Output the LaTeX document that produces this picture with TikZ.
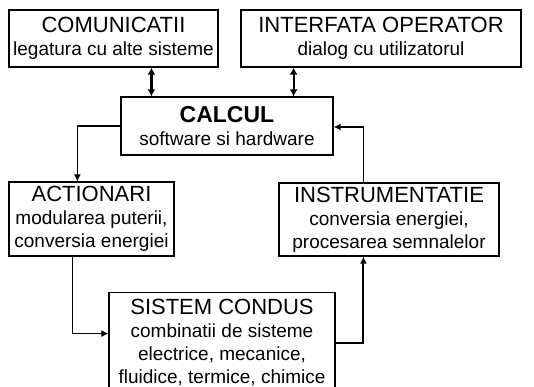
\documentclass[tikz,border=0pt]{standalone}
\usepackage{fontspec}
\setmainfont{Liberation Sans}
\usetikzlibrary{arrows.meta}

\newcommand{\hd}[1]{{\fontsize{22}{23}\selectfont #1}}

\begin{document}
\begin{tikzpicture}[x=1pt, y=-1pt,
    blok/.style={draw, line width=1.2pt, inner sep=0pt, align=center,
                 font=\fontsize{19}{23}\selectfont},
    link/.style={line width=1.1pt, -{Latex[length=7pt, width=7pt]}},
    biarrow/.style={line width=2.2pt, {Latex[length=7pt, width=8pt]}-{Latex[length=7pt, width=8pt]}}]
    \clip (0,0) rectangle (534,387);
    \node[blok, minimum width=209pt, minimum height=57pt] (com) at (113.5,38.5) {\hd{COMUNICATII}\\legatura cu alte sisteme};
    \node[blok, minimum width=280pt, minimum height=57pt] (intf) at (381,38.5) {\hd{INTERFATA OPERATOR}\\dialog cu utilizatorul};
    \node[blok, minimum width=212pt, minimum height=58pt] (calc) at (227,126) {{\fontsize{23}{23}\selectfont\bfseries CALCUL}\\software si hardware};
    \node[blok, minimum width=165pt, minimum height=74pt] (act) at (91.5,219) {\hd{ACTIONARI}\\modularea puterii,\\conversia energiei};
    \node[blok, minimum width=220pt, minimum height=73pt] (instr) at (389,219.5) {\hd{INSTRUMENTATIE}\\conversia energiei,\\procesarea semnalelor};
    \node[blok, anchor=north, minimum width=226pt, minimum height=100pt] (sis) at (222,292) {\hd{SISTEM CONDUS}\\combinatii de sisteme\\electrice, mecanice,\\fluidice, termice, chimice};

    \draw[biarrow] ([xshift=31pt]calc.north west |- com.south) -- ([xshift=31pt]calc.north west);
    \draw[biarrow] ([xshift=-40pt]calc.north east |- intf.south) -- ([xshift=-40pt]calc.north east);
    \draw[link] (calc.west) -| ([xshift=69pt]act.north west);
    \draw[link] ([xshift=64pt]act.south west) |- ([yshift=9pt]sis.west);
    \draw[link, line width=2pt] (sis.east) -| ([xshift=85pt]instr.south west);
    \draw[link, line width=1.6pt] ([xshift=85pt]instr.north west) |- ([yshift=-1pt]calc.east);
\end{tikzpicture}
\end{document}
